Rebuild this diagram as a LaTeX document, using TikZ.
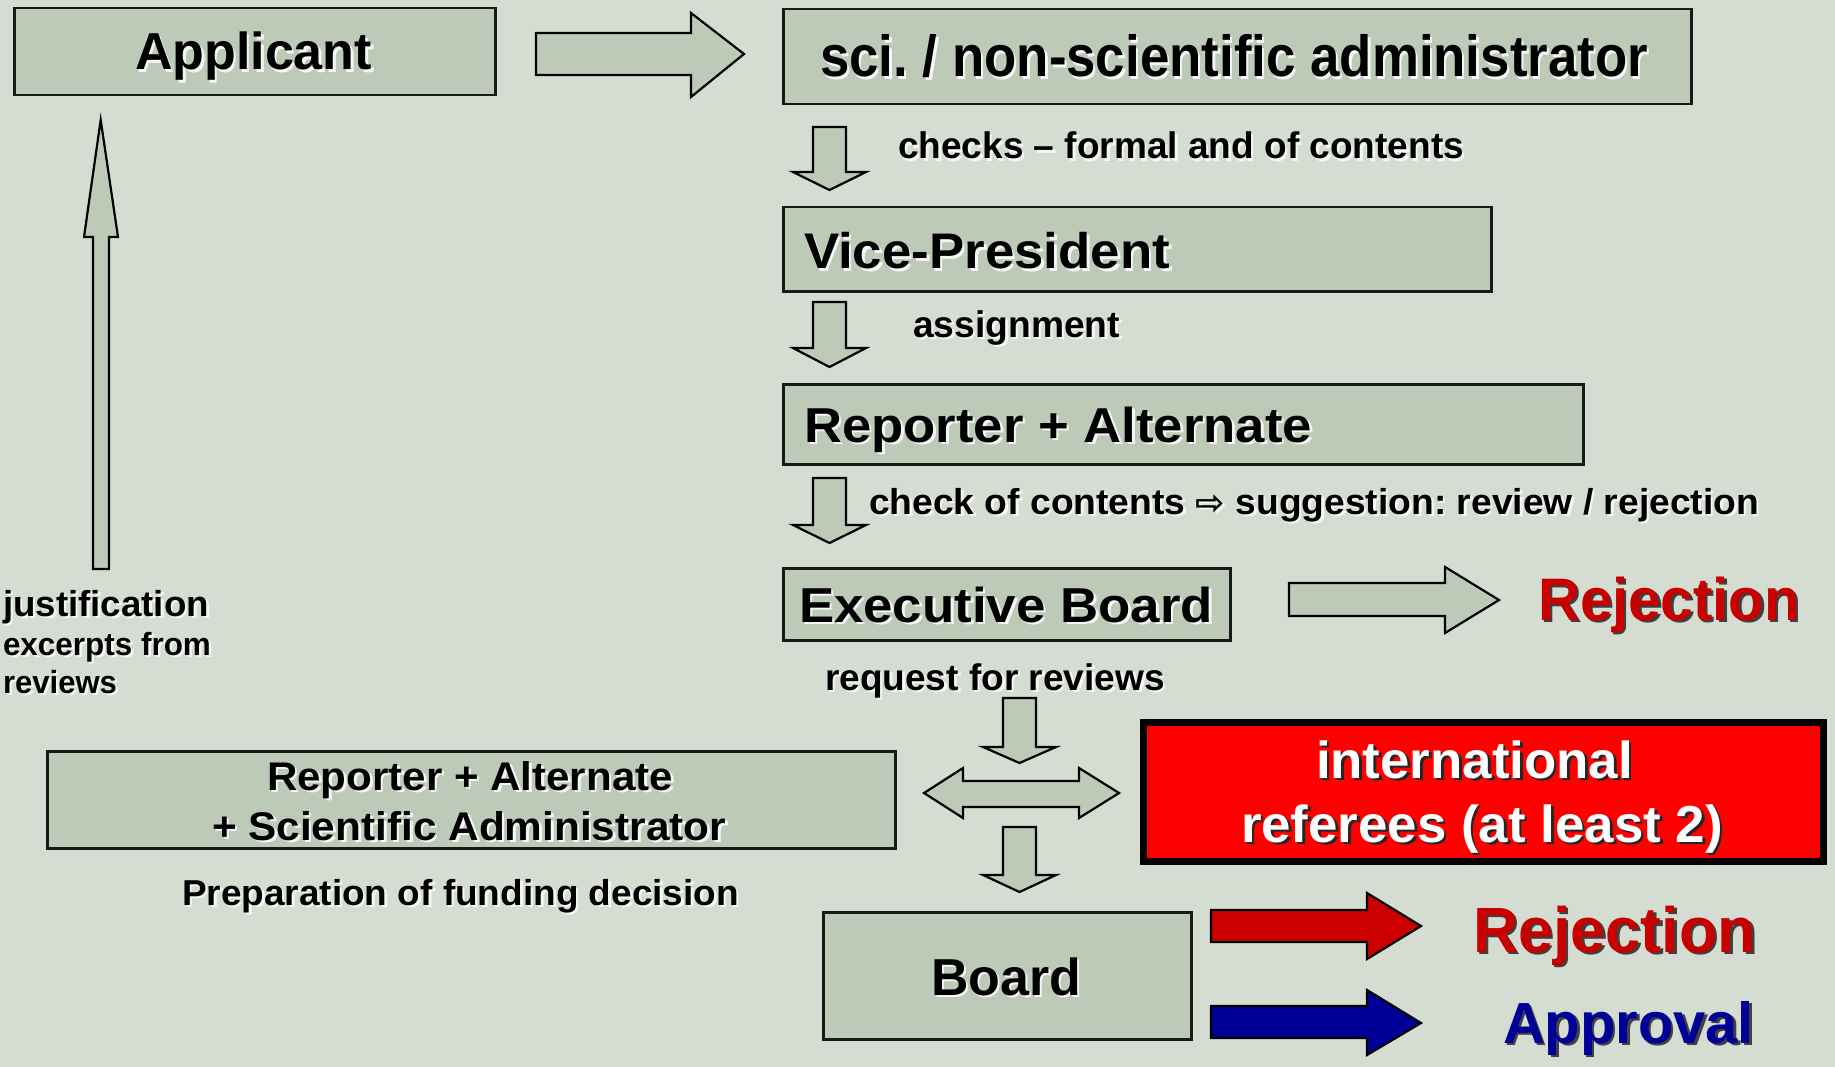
\documentclass[tikz,border=0pt]{standalone}
\usepackage{fontspec}
\setmainfont{Liberation Sans}
\newfontfamily\symfont{DejaVu Sans}
\usepackage{graphicx}
\frenchspacing
\definecolor{bg}{HTML}{D5DDD3}
\definecolor{boxfill}{HTML}{BECAB8}
\definecolor{rejred}{HTML}{C80000}
\definecolor{arrred}{HTML}{CC0000}
\definecolor{apblue}{HTML}{000099}
\definecolor{glow}{HTML}{F4F7F3}
\newlength\fwlen
\newcommand\fitw[2]{\settowidth\fwlen{#2}\pgfmathsetmacro\fwfac{#1/\fwlen}\scalebox{\fwfac}[1]{#2}}
\newcommand\shtext[3]{\fitw{#2}{\rlap{\kern2.5pt\raisebox{-2.5pt}{\color{#1}#3}}#3}}
\tikzset{
  box/.style={draw=black!90, line width=2.5pt, fill=boxfill, anchor=north west, inner sep=0pt},
  txt/.style={inner sep=0pt, outer sep=0pt, anchor=base west},
  fs/.style={font=\bfseries\frenchspacing\fontsize{#1}{#1}\selectfont},
  blockarrow/.style={draw=black, line width=2.2pt, fill=boxfill, line join=miter},
}
\newcommand\dnarr[4]{%
  \draw[blockarrow] (#1-16.5,#2) -- (#1+16.5,#2) -- (#1+16.5,#3) -- (#1+36.5,#3) -- (#1,#4) -- (#1-36.5,#3) -- (#1-16.5,#3) -- cycle;}
\begin{document}
\begin{tikzpicture}[x=1pt,y=-1pt]
\fill[bg] (0,0) rectangle (1835,1067);
\useasboundingbox (0,0) rectangle (1835,1067);

% boxes
\node[box, minimum width=481pt, minimum height=87pt] (applicant) at (13,7) {};
\node[box, minimum width=908pt, minimum height=95pt] (admin) at (782,8) {};
\node[box, minimum width=708pt, minimum height=84pt] (vp) at (782,206) {};
\node[box, minimum width=800pt, minimum height=80pt] (rep) at (782,383) {};
\node[box, minimum width=447pt, minimum height=72pt] (exec) at (782,567) {};
\node[box, minimum width=848pt, minimum height=97pt] (prep) at (46,750) {};
\node[box, minimum width=368pt, minimum height=127pt] (board) at (822,911) {};
\node[draw=black, line width=7pt, fill=red, anchor=north west, inner sep=0pt, minimum width=680pt, minimum height=139pt] (intl) at (1139.5,718.5) {};

% block arrows
\draw[blockarrow] (536,33) -- (691,33) -- (691,13) -- (744,54) -- (691,97) -- (691,75) -- (536,75) -- cycle;
\dnarr{829.5}{127}{172}{190}
\dnarr{829.5}{302}{348}{367}
\dnarr{829.5}{478}{525}{543}
\draw[blockarrow] (1289,583) -- (1445,583) -- (1445,567) -- (1499,600) -- (1445,633) -- (1445,616) -- (1289,616) -- cycle;
\dnarr{1019.5}{698}{747}{763}
\draw[blockarrow] (924,793) -- (963,768) -- (963,781) -- (1079,781) -- (1079,768) -- (1119,793) -- (1079,818) -- (1079,807) -- (963,807) -- (963,818) -- cycle;
\dnarr{1019.5}{827}{875}{892}
\draw[blockarrow, fill=arrred] (1211,910) -- (1367,910) -- (1367,893) -- (1421,926) -- (1367,959) -- (1367,942) -- (1211,942) -- cycle;
\draw[blockarrow, fill=apblue] (1211,1006) -- (1367,1006) -- (1367,990) -- (1421,1023) -- (1367,1055) -- (1367,1038) -- (1211,1038) -- cycle;
\draw[blockarrow] (93,569) -- (93,237) -- (84,237) -- (100.7,120) -- (118,237) -- (109,237) -- (109,569) -- cycle;

% texts
\node[txt, fs=52] (tApplicant) at (135,70) {\shtext{glow}{237}{Applicant}};
\node[txt, fs=58] (tAdmin) at (820,77) {\shtext{glow}{828}{sci. / non-scientific administrator}};
\node[txt, fs=37] (tChecks) at (898,159) {\shtext{glow}{566}{checks – formal and of contents}};
\node[txt, fs=50] (tVP) at (804,269) {\shtext{glow}{366}{Vice-President}};
\node[txt, fs=37] (tAssign) at (913,337) {\shtext{glow}{207}{assignment}};
\node[txt, fs=49] (tRep) at (804,442) {\shtext{glow}{508}{Reporter + Alternate}};
\node[txt, fs=36] (tCheck) at (869,514) {\shtext{glow}{890}{check of contents {\symfont\fontsize{34}{34}\selectfont ⇨} suggestion: review / rejection}};
\node[txt, fs=49] (tExec) at (799,622) {\shtext{glow}{414}{Executive Board}};
\node[txt, fs=60, text=rejred] (tRej1) at (1538,620) {\shtext{black!75}{262}{Rejection}};
\node[txt, fs=37] (tReq) at (825,690) {\shtext{glow}{340}{request for reviews}};
\node[txt, fs=52, text=white] (tIntl1) at (1316,778) {\shtext{black!85}{317}{international}};
\node[txt, fs=52, text=white] (tIntl2) at (1241,842) {\shtext{black!85}{482}{referees (at least 2)}};
\node[txt, fs=52] (tBoard) at (931,995) {\shtext{glow}{150}{Board}};
\node[txt, fs=64, text=rejred] (tRej2) at (1473,952) {\shtext{black!75}{283}{Rejection}};
\node[txt, fs=58, text=apblue] (tAppr) at (1503,1043) {\shtext{black!75}{251}{Approval}};
\node[txt, fs=40] (tPrep1) at (267,790) {\shtext{glow}{406}{Reporter + Alternate}};
\node[txt, fs=40] (tPrep2) at (212,840) {\shtext{glow}{514}{+ Scientific Administrator}};
\node[txt, fs=36] (tFund) at (182,905) {\shtext{glow}{557}{Preparation of funding decision}};
\node[txt, fs=36] (tJust1) at (3,616) {\shtext{glow}{206}{justification}};
\node[txt, fs=32] (tJust2) at (3,655) {\shtext{glow}{208}{excerpts from}};
\node[txt, fs=32] (tJust3) at (3,693) {\shtext{glow}{114}{reviews}};
\end{tikzpicture}
\end{document}
